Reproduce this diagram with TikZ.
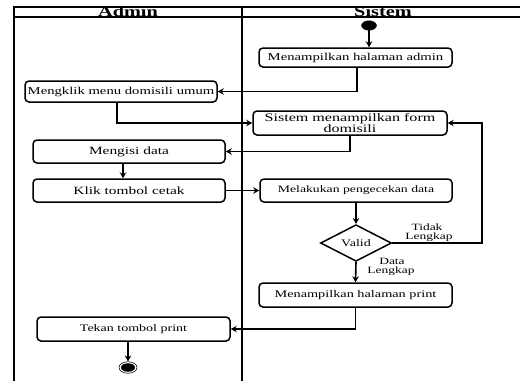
\documentclass[tikz,border=0pt]{standalone}
\usepackage{fontspec}
\setmainfont[FakeStretch=1.4]{Liberation Serif}
\usetikzlibrary{arrows.meta,shapes.geometric}
\begin{document}
\begin{tikzpicture}[x=1pt,y=-1pt,
  frame/.style={line width=1.5pt},
  act/.style={draw,line width=1.5pt,rounded corners=4pt,inner sep=0pt,align=center,font=\fontsize{10.5}{10}\selectfont},
  flow/.style={line width=1.6pt,-{Stealth[length=6pt,width=6.5pt]}},
  lbl/.style={inner sep=0pt,font=\fontsize{9.6}{10}\selectfont},
  hdr/.style={inner sep=0pt,anchor=base,font=\fontsize{14.5}{15}\selectfont\bfseries}]
\useasboundingbox (0,0) rectangle (520,381);
% swimlane frame
\draw[frame] (14,381) -- (14,7) -- (520,7);
\draw[frame] (14,17) -- (520,17);
\draw[frame] (242,7) -- (242,381);
\node[hdr] (hadmin) at (128,16.3) {Admin};
\node[hdr] (hsistem) at (383,16.3) {Sistem};
% nodes
\node[ellipse,fill,draw,minimum width=15pt,minimum height=9.5pt,inner sep=0pt] (start) at (369,25.5) {};
\node[act,minimum width=193pt,minimum height=19pt] (adm) at (355.5,57.5) {Menampilkan halaman admin};
\node[act,minimum width=192pt,minimum height=21pt] (klikmenu) at (121,91.5) {Mengklik menu domisili umum};
\node[act,minimum width=194pt,minimum height=24pt,font=\fontsize{11.5}{9.5}\selectfont] (form) at (350,123) {Sistem menampilkan form\\domisili};
\node[act,minimum width=192pt,minimum height=23pt,font=\fontsize{11}{10}\selectfont] (isi) at (129,151.5) {Mengisi data};
\node[act,minimum width=192pt,minimum height=23pt,font=\fontsize{11}{10}\selectfont] (cetak) at (129,190.5) {Klik tombol cetak};
\node[act,minimum width=192pt,minimum height=23pt,font=\fontsize{9.8}{10}\selectfont] (cek) at (356,190.5) {Melakukan pengecekan data};
\node[diamond,draw,line width=1.5pt,minimum width=71pt,minimum height=33pt,inner sep=0pt,font=\fontsize{10}{10}\selectfont] (valid) at (356,243) {Valid};
\node[act,minimum width=193pt,minimum height=24pt,font=\fontsize{10.2}{10}\selectfont] (print) at (355.5,295) {Menampilkan halaman print};
\node[act,minimum width=193pt,minimum height=24pt,font=\fontsize{10}{10}\selectfont] (tekan) at (133.5,329) {Tekan tombol print};
\node[ellipse,draw,line width=0.6pt,minimum width=18pt,minimum height=11.5pt,inner sep=0pt] (endo) at (128,367.5) {};
\node[ellipse,fill,minimum width=14pt,minimum height=8.5pt,inner sep=0pt] (endi) at (128,367.5) {};
% labels
\node[lbl] (ltidak) at (427,227.5) {Tidak};
\node[lbl] (llengkap1) at (429,237) {Lengkap};
\node[lbl] (ldata) at (392,261) {Data};
\node[lbl] (llengkap2) at (391,271) {Lengkap};
\coordinate (loop) at (482,243);
% connectors
\draw[flow] (start) -- (adm.north -| start);
\draw[flow] (adm.south -| 357,0) |- (klikmenu.east);
\draw[flow] (klikmenu.south -| 117,0) |- (form.west);
\draw[flow] (form.south) |- (isi.east);
\draw[flow] (isi.south -| 123,0) -- (cetak.north -| 123,0);
\draw[flow] (cetak.east) -- (cek.west);
\draw[flow] (cek.south) -- (valid.north);
\draw[flow] (valid.east) -- (loop) |- (form.east);
\draw[flow] (valid.south) -- (print.north);
\draw[flow] (print.south) |- (tekan.east);
\draw[flow] (tekan.south -| endo) -- (endo.north);
\end{tikzpicture}
\end{document}
